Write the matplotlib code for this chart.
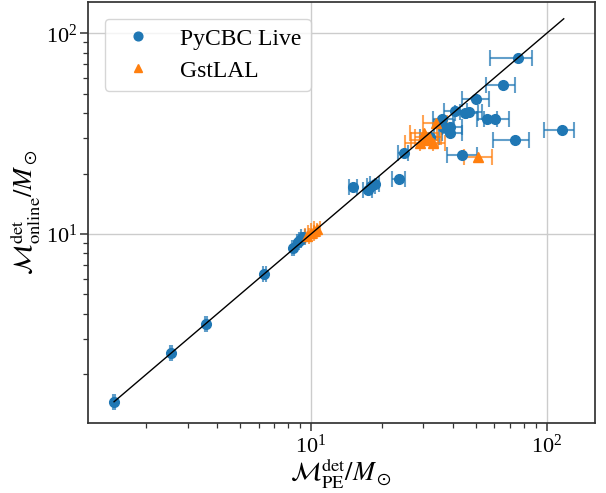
import numpy as np
import matplotlib
matplotlib.use("Agg")
import matplotlib.pyplot as plt

plt.rcParams['font.family'] = ['Liberation Serif', 'DejaVu Serif']
plt.rcParams['mathtext.fontset'] = 'stix'

# PyCBC Live: PE chirp mass (x), online chirp mass (y), asymmetric x errors
pycbc_pe = [1.46, 2.55, 3.58, 6.34, 8.41, 8.81, 8.98, 9.25, 15.1, 17.4, 17.9, 18.6,
            23.6, 24.8, 32.0, 35.9, 36.3, 38.9, 38.9, 40.8, 45.0, 47.0, 43.6, 50.0,
            55.7, 60.4, 65.5, 75.8, 73.4, 115.8]
pycbc_online = [1.46, 2.54, 3.55, 6.32, 8.49, 9.12, 9.33, 9.66, 17.1, 16.6, 17.3, 17.7,
                18.9, 25.2, 30.5, 37.4, 34.1, 34.2, 31.7, 41.1, 40.2, 40.7, 24.8, 47.1,
                37.4, 37.4, 55.3, 75.1, 29.4, 32.9]
pycbc_err_lo = [0.02, 0.03, 0.04, 0.08, 0.1, 0.12, 0.12, 0.15, 0.6, 0.7, 0.7, 0.8,
                1.5, 1.4, 3.0, 3.0, 3.0, 3.0, 3.0, 4.0, 4.0, 4.0, 6.0, 6.4,
                5.0, 6.0, 10.2, 18.3, 14.1, 18.1]
pycbc_err_hi = [0.02, 0.03, 0.04, 0.08, 0.1, 0.12, 0.12, 0.15, 0.6, 0.7, 0.7, 0.8,
                1.5, 1.0, 3.0, 4.0, 4.0, 5.0, 5.0, 5.0, 6.0, 6.0, 6.9, 7.1,
                6.0, 9.0, 7.9, 10.6, 10.7, 14.8]

# GstLAL
gstlal_pe = [9.6, 10.0, 10.3, 10.6, 29.0, 30.2, 30.5, 31.7, 33.0, 33.9, 51.1]
gstlal_online = [9.8, 10.1, 10.35, 10.6, 28.3, 31.9, 29.4, 30.4, 28.3, 35.6, 24.1]
gstlal_err_lo = [0.2, 0.3, 0.3, 0.3, 4.0, 4.0, 4.0, 4.0, 4.0, 4.0, 6.4]
gstlal_err_hi = [0.2, 0.3, 0.3, 0.3, 4.0, 4.0, 4.0, 4.0, 4.0, 4.0, 7.3]

blue = '#1f77b4'
orange = '#ff7f0e'

fig = plt.figure(figsize=(6.06, 4.93), dpi=100)
ax = fig.add_axes([88/606, 1-423/493, (595-88)/606, (423-2)/493])

ax.errorbar(pycbc_pe, pycbc_online, xerr=[pycbc_err_lo, pycbc_err_hi], fmt='none',
            ecolor=blue, alpha=0.7, capsize=6, elinewidth=1.5, capthick=1.5, zorder=2)
ax.errorbar(gstlal_pe, gstlal_online, xerr=[gstlal_err_lo, gstlal_err_hi], fmt='none',
            ecolor=orange, alpha=0.7, capsize=6, elinewidth=1.5, capthick=1.5, zorder=2)
ax.plot(pycbc_pe, pycbc_online, 'o', color=blue, ms=7, label='PyCBC Live', zorder=3)
ax.plot(gstlal_pe, gstlal_online, '^', color=orange, ms=7, label='GstLAL', zorder=3)

allx = pycbc_pe + gstlal_pe
lo, hi = min(allx), max(allx)
ax.plot([lo, hi*1.02], [lo, hi*1.02], color='black', lw=1, zorder=4)

ax.set_xscale('log')
ax.set_yscale('log')
ax.set_xlim(1.132, 160.3)
ax.set_ylim(1.144, 143.2)
ax.grid(True, which='major', color='#cccccc', lw=1)
ax.set_axisbelow(True)
for s in ax.spines.values():
    s.set_color('#333333')
    s.set_linewidth(1.25)
ax.tick_params(which='major', length=6, width=1.1, color='#333333', labelsize=16,
               direction='out', pad=2)
ax.tick_params(which='minor', length=3.5, width=0.9, color='#333333', direction='out')

ax.set_xlabel(r'$\mathcal{M}_{\rm PE}^{\rm det}/M_\odot$', fontsize=19, labelpad=0)
ax.set_ylabel(r'$\mathcal{M}_{\rm online}^{\rm det}/M_\odot$', fontsize=19, labelpad=2)

ax.legend(loc='upper left', fontsize=17, labelspacing=0.45, borderaxespad=0.7,
          handletextpad=0.8, markerscale=0.9)

fig.savefig('out.png', dpi=100)
